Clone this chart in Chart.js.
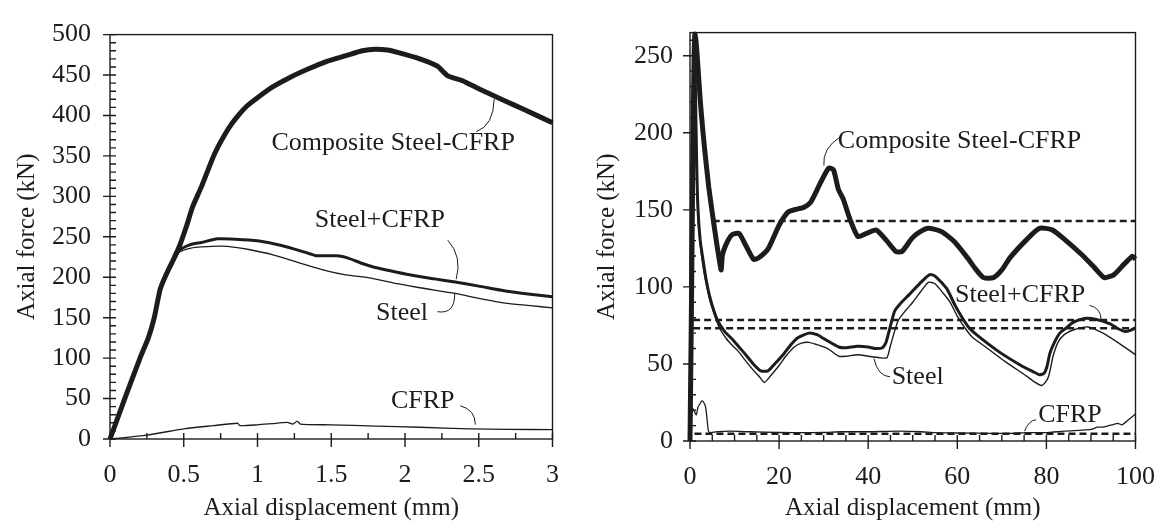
<!DOCTYPE html>
<html>
<head>
<meta charset="utf-8">
<script src="https://cdn.jsdelivr.net/npm/chart.js@4.4.1/dist/chart.umd.min.js"></script>
<style>
  html, body { margin: 0; padding: 0; background: #fff; }
  #wrap { position: relative; width: 1176px; height: 531px; }
  canvas { position: absolute; top: 0; }
  #left { left: 0; }
  #right { left: 580px; }
</style>
</head>
<body>
<div id="wrap">
  <canvas id="left" width="580" height="531"></canvas>
  <canvas id="right" width="596" height="531"></canvas>
</div>
<script>
var FONT = '"Liberation Serif", "Times New Roman", serif';
var INK = '#1c1c1c';

// ---- left panel: 0-3 mm ----
var leftXTicks = [0, 0.5, 1, 1.5, 2, 2.5, 3];
var leftYTicks = [0, 50, 100, 150, 200, 250, 300, 350, 400, 450, 500];

var leftCompX = [0, 0.1, 0.21, 0.26, 0.3, 0.34, 0.38, 0.43, 0.47, 0.52, 0.56, 0.62, 0.71, 0.8, 0.86, 0.93, 1.0, 1.1, 1.22, 1.35, 1.47, 1.6, 1.71, 1.8, 1.88, 1.95, 2.1, 2.22, 2.29, 2.39, 2.5, 2.69, 2.8, 3.0];
var leftCompY = [0, 50, 103, 125, 150, 185, 203, 222, 238, 264, 287, 312, 353, 383, 398, 412, 422, 435, 447, 458, 467, 474, 480, 482, 481, 478, 470, 461, 449, 443, 433, 417, 408, 391];

var leftSCX = [0, 0.1, 0.21, 0.26, 0.3, 0.34, 0.38, 0.43, 0.47, 0.54, 0.62, 0.73, 0.85, 1.0, 1.17, 1.32, 1.39, 1.47, 1.54, 1.61, 1.71, 1.78, 1.9, 2.03, 2.2, 2.34, 2.5, 2.68, 2.85, 3.0];
var leftSCY = [0, 50, 103, 125, 150, 185, 203, 220, 233, 240, 243, 247.5, 247, 245, 239, 231, 227, 226.5, 226.5, 224, 217, 213, 208, 203, 198, 194, 189, 183, 179, 176];

var leftSteelX = [0, 0.1, 0.21, 0.26, 0.3, 0.34, 0.38, 0.43, 0.47, 0.55, 0.62, 0.755, 0.85, 0.95, 1.1, 1.28, 1.47, 1.6, 1.77, 1.95, 2.1, 2.34, 2.5, 2.68, 2.85, 3.0];
var leftSteelY = [0, 50, 103, 125, 150, 184, 202, 219, 231, 236, 237.5, 238.5, 237, 234, 228, 218, 208, 203, 199, 192, 187, 180, 174, 168, 165, 162];

var leftCfrpX = [0, 0.25, 0.51, 0.7, 0.865, 0.88, 1.0, 1.1, 1.2, 1.24, 1.27, 1.29, 1.5, 1.8, 2.1, 2.44, 2.7, 3.0];
var leftCfrpY = [0, 4.8, 12.9, 16.5, 19.5, 16.5, 17.5, 19, 20.5, 18.5, 22, 18.5, 17.5, 16, 14.5, 12.5, 12, 11.5];

// ---- right panel: 0-100 mm ----
var rightXTicks = [0, 20, 40, 60, 80, 100];
var rightYTicks = [0, 50, 100, 150, 200, 250];

var rightCompX = [0, 0.3, 0.6, 0.9, 1.1, 1.4, 1.8, 2.3, 2.8, 3.3, 4.2, 5.1, 6.0, 6.6, 7.0, 7.3, 8.5, 9.5, 11, 12.5, 14.3, 15.5, 17.6, 20, 22, 24, 25.6, 27.1, 29.3, 31.1, 32.2, 33.3, 34.4, 35.9, 37.7, 39.6, 41.8, 44, 46.2, 47.6, 49.8, 51.5, 53.5, 56.4, 59.3, 62.3, 64, 65.9, 68.1, 70, 71.8, 75.5, 78.4, 81.3, 84.2, 87.9, 90.8, 93, 95.2, 97.4, 99.3, 100];
var rightCompY = [0, 80, 170, 245, 264, 258, 242, 221, 204, 189, 165, 146, 128, 117, 111, 121, 130, 134, 134.7, 127, 117.8, 119, 125, 140, 148.5, 150.5, 151.7, 155, 167.6, 177, 176, 163.4, 157, 144, 132.6, 134.7, 136.9, 130.5, 123, 123, 131.5, 135.5, 138, 136, 129.4, 118.8, 112, 106, 106, 111, 118.8, 130.5, 138, 137, 130.5, 121, 112.5, 106, 108, 114.6, 119.9, 118];

var rightSCX = [0, 0.5, 0.9, 1.2, 1.5, 1.8, 2.3, 2.9, 3.6, 4.4, 5.3, 6.2, 7.8, 9.5, 11, 12.5, 14.2, 15.9, 17.5, 19, 20.9, 22.5, 24.2, 26.7, 28.5, 30, 33.4, 35, 37.6, 40, 41.7, 43.2, 44, 45.9, 47.5, 49.2, 51.5, 53.8, 55, 57.6, 59.5, 60.9, 62.5, 64.3, 69.3, 74.3, 77, 78.5, 79.5, 80.1, 80.8, 81.8, 83, 84.3, 86, 88.5, 91, 94.3, 96, 97.7, 99, 100];
var rightSCY = [0, 180, 255, 230, 180, 150, 130, 118, 105, 94, 85, 78, 71, 66, 61, 56, 50, 45.5, 45.5, 50, 56, 62, 67, 70, 69, 66.5, 61, 60.5, 61.5, 61, 60, 60.5, 64, 84, 90, 95, 102, 108, 107, 99, 88, 81, 74, 69, 58, 49, 45, 43, 44, 48, 57, 64, 70, 73, 77, 79.5, 79, 76, 73, 71, 72, 73.5];

var rightSteelX = [0, 0.5, 0.9, 1.2, 1.5, 1.9, 2.4, 3, 3.8, 4.5, 5.5, 6.5, 8, 9.5, 10.9, 12.5, 14.2, 15.5, 16.7, 18, 20, 21.5, 23.4, 25, 26.7, 28.5, 30.9, 33.4, 35, 37.6, 40, 42.6, 44.2, 45, 46.7, 48.5, 50, 51.8, 53.5, 55, 56.8, 58.4, 60, 61.8, 63.5, 65.9, 71, 75.1, 77.5, 78.9, 80, 80.6, 81.5, 82.6, 84, 86, 89.3, 92.7, 96, 100];
var rightSteelY = [0, 170, 250, 215, 170, 140, 125, 112, 100, 91, 82, 74, 67, 62, 58, 52, 46, 42, 38, 42, 49, 55, 61, 63.5, 64, 62.5, 60, 55, 55, 56, 55, 54, 54, 62, 78, 85, 90, 97, 103, 102, 96, 90, 81, 73, 67, 62, 51, 43, 38, 36, 39, 43, 55, 64, 69, 72, 74, 70, 64, 56];

var rightCfrpX = [0, 0.3, 0.6, 1.0, 1.4, 1.8, 2.2, 2.7, 3.1, 3.5, 3.8, 4.1, 4.4, 6, 9, 13.4, 20, 26, 30, 34, 40, 47, 52, 55, 60, 68, 72, 76, 80, 84, 88, 90, 91.5, 92.7, 94, 95, 96, 97, 98.5, 100];
var rightCfrpY = [0, 14, 21, 19, 17, 22, 24, 26, 25, 22, 15, 7, 5.5, 6, 6.4, 6, 5.5, 5.4, 5.5, 6, 6, 6.4, 6, 5.4, 5.2, 5, 5, 5.4, 5.4, 6.4, 7, 7.5, 9, 9, 10, 10.7, 11.5, 10.5, 14, 17.5];

// mean crushing force levels (dashed), with the displacement where each starts
var meanLevel = [142.8, 78.5, 73.2, 4.7];
var meanStart = [5.1, 0.7, 0.7, 1.0];

function pts(xs, ys) {
  return xs.map(function (x, i) { return { x: x, y: ys[i] }; });
}

function serie(xs, ys, w) {
  return { data: pts(xs, ys), borderColor: INK, borderWidth: w, pointRadius: 0, tension: 0.2, clip: false, fill: false };
}

function media(i) {
  return { data: pts([meanStart[i], 100], [meanLevel[i], meanLevel[i]]), borderColor: INK, borderWidth: 2.5,
    borderDash: [7, 4], pointRadius: 0, tension: 0, fill: false };
}

// frame and ticks: majors cross the axis, minors point inwards
function marcas(xMinor, yMinor) {
  return {
    id: 'marcas',
    afterDraw: function (chart) {
      var a = chart.chartArea, ctx = chart.ctx, sx = chart.scales.x, sy = chart.scales.y;
      function esMayor(s, v) {
        return s.ticks.some(function (t) { return Math.abs(t.value - v) < 1e-6; });
      }
      ctx.save();
      ctx.strokeStyle = INK;
      ctx.lineWidth = 1.4;
      ctx.strokeRect(a.left, a.top, a.right - a.left, a.bottom - a.top);
      ctx.beginPath();
      var n = Math.round((sx.max - sx.min) / xMinor), i, v, p;
      for (i = 0; i <= n; i++) {
        v = sx.min + i * xMinor;
        p = sx.getPixelForValue(v);
        var mx = esMayor(sx, v);
        ctx.moveTo(p, a.bottom + (mx ? 8 : 0));
        ctx.lineTo(p, a.bottom - 6);
      }
      n = Math.floor((sy.max - sy.min) / yMinor + 1e-6);
      for (i = 0; i <= n; i++) {
        v = sy.min + i * yMinor;
        p = sy.getPixelForValue(v);
        var my = esMayor(sy, v);
        ctx.moveTo(a.left - (my ? 7 : 0), p);
        ctx.lineTo(a.left + 6, p);
      }
      ctx.stroke();
      ctx.restore();
    }
  };
}

// curve labels with their small leader lines
function rotulos(items) {
  return {
    id: 'rotulos',
    afterDatasetsDraw: function (chart) {
      var ctx = chart.ctx, sx = chart.scales.x, sy = chart.scales.y;
      ctx.save();
      ctx.fillStyle = INK;
      ctx.strokeStyle = INK;
      ctx.lineWidth = 1;
      ctx.font = '26px ' + FONT;
      ctx.textAlign = 'center';
      ctx.textBaseline = 'middle';
      items.forEach(function (it) {
        ctx.fillText(it.text, sx.getPixelForValue(it.at[0]), sy.getPixelForValue(it.at[1]));
        ctx.beginPath();
        ctx.moveTo(sx.getPixelForValue(it.lead[0]), sy.getPixelForValue(it.lead[1]));
        ctx.quadraticCurveTo(sx.getPixelForValue(it.lead[2]), sy.getPixelForValue(it.lead[3]),
          sx.getPixelForValue(it.lead[4]), sy.getPixelForValue(it.lead[5]));
        ctx.stroke();
      });
      ctx.restore();
    }
  };
}

function eje(ticks, min, max, title, extra) {
  var o = {
    type: 'linear', min: min, max: max,
    afterBuildTicks: function (s) { s.ticks = ticks.map(function (v) { return { value: v }; }); },
    grid: { display: false, drawTicks: false },
    border: { display: false },
    ticks: { font: { family: FONT, size: 26 }, color: INK, maxRotation: 0, autoSkip: false,
      callback: function (v) { return String(v); } },
    title: { display: true, text: title, color: INK, font: { family: FONT, size: 25 } }
  };
  for (var k in extra) o[k] = extra[k];
  return o;
}

function grafico(id, cfg) {
  return new Chart(document.getElementById(id), {
    type: 'line',
    data: { datasets: cfg.datasets },
    options: {
      responsive: false,
      animation: false,
      devicePixelRatio: 1,
      layout: { padding: { top: cfg.top, right: cfg.right, left: 0, bottom: 0 } },
      plugins: { legend: { display: false }, tooltip: { enabled: false } },
      scales: {
        x: eje(cfg.xTicks, 0, cfg.xMax, 'Axial displacement (mm)', {
          afterFit: function (s) { s.height = cfg.xh; }
        }),
        y: eje(cfg.yTicks, 0, cfg.yMax, 'Axial force (kN)', {
          afterFit: function (s) { s.width = 110; }
        })
      }
    },
    plugins: [marcas(cfg.xMinor, cfg.yMinor), rotulos(cfg.labels)]
  });
}

function ajustar(chart, padX, padY) {
  chart.options.scales.x.ticks.padding = padX;
  chart.options.scales.y.ticks.padding = padY;
  chart.options.scales.x.title.padding = { top: 0, bottom: 8 };
  chart.options.scales.y.title.padding = { top: 12, bottom: 0 };
  chart.update();
}

var izq = grafico('left', {
  datasets: [
    serie(leftCompX, leftCompY, 5),
    serie(leftSCX, leftSCY, 3),
    serie(leftSteelX, leftSteelY, 1.3),
    serie(leftCfrpX, leftCfrpY, 1.3)
  ],
  xTicks: leftXTicks, yTicks: leftYTicks, xMax: 3, yMax: 500,
  xMinor: 0.25, yMinor: 10, top: 24, right: 13, xh: 92,
  labels: [
    { text: 'Composite Steel-CFRP', at: [1.92, 366], lead: [2.484, 380, 2.60, 387.5, 2.605, 420.5] },
    { text: 'Steel+CFRP', at: [1.83, 270], lead: [2.29, 245.8, 2.39, 225.7, 2.347, 197.6] },
    { text: 'Steel', at: [1.98, 155], lead: [2.22, 157.4, 2.34, 154, 2.337, 180.3] },
    { text: 'CFRP', at: [2.12, 47], lead: [2.375, 41, 2.476, 36.4, 2.477, 17.7] }
  ]
});
ajustar(izq, 21, 19);

var der = grafico('right', {
  datasets: [
    serie(rightCompX, rightCompY, 5),
    serie(rightSCX, rightSCY, 3),
    serie(rightSteelX, rightSteelY, 1.4),
    serie(rightCfrpX, rightCfrpY, 1.3),
    media(0), media(1), media(2), media(3)
  ],
  xTicks: rightXTicks, yTicks: rightYTicks, xMax: 100, yMax: 265,
  xMinor: 5, yMinor: 10, top: 23, right: 31, xh: 90,
  labels: [
    { text: 'Composite Steel-CFRP', at: [60.5, 194.8], lead: [33.7, 197.3, 29.67, 189.8, 30.05, 178.7] },
    { text: 'Steel+CFRP', at: [74.1, 94.5], lead: [89.7, 88, 92.2, 86.5, 92.3, 78.5] },
    { text: 'Steel', at: [51.1, 41.6], lead: [44.9, 41.6, 42.1, 42.2, 41.3, 53.5] },
    { text: 'CFRP', at: [85.3, 16.5], lead: [77.7, 13.8, 76.0, 13.3, 75.1, 6.4] }
  ]
});
ajustar(der, 21, 17);
</script>
</body>
</html>
